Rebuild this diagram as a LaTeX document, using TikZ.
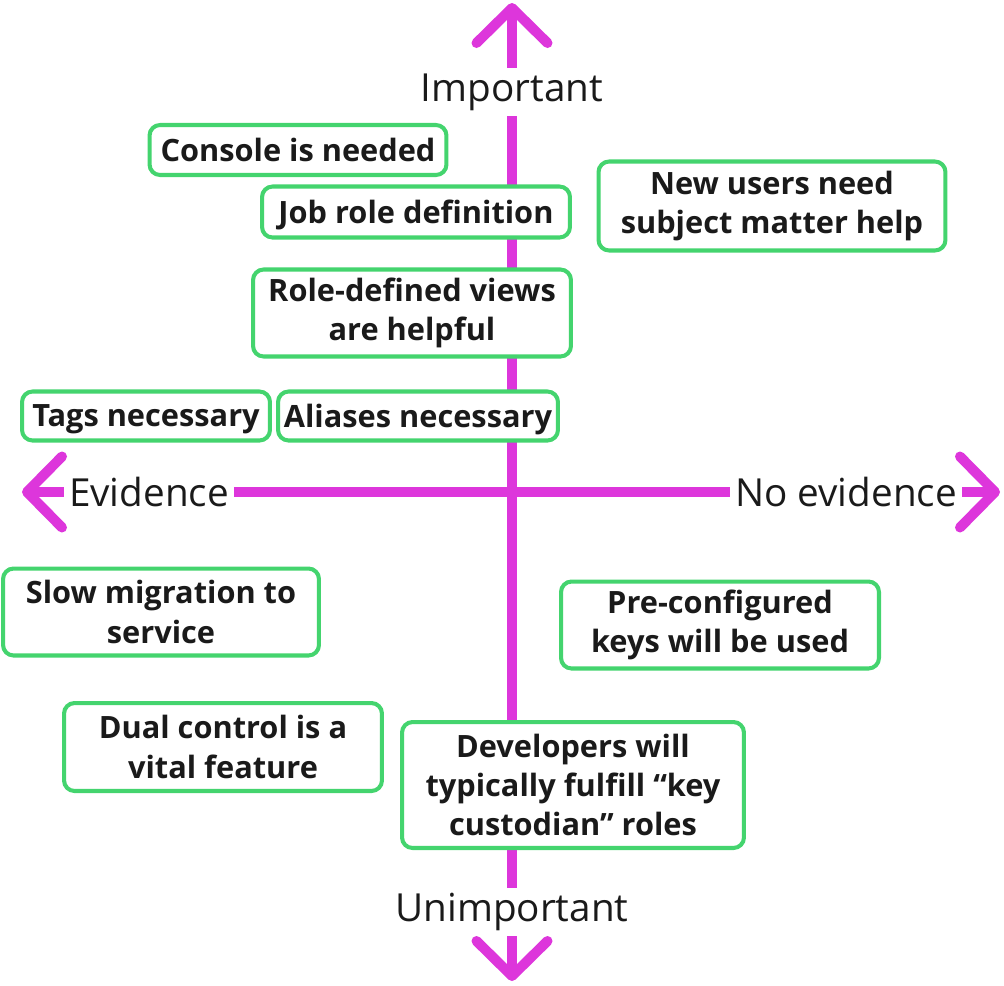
\documentclass[tikz,border=0pt]{standalone}
\usepackage{fontspec}
\setmainfont{Open Sans}
\usetikzlibrary{arrows.meta,positioning}
\definecolor{axismagenta}{RGB}{221,54,219}
\definecolor{cardgreen}{RGB}{68,212,110}
\definecolor{inkgray}{RGB}{26,26,26}

\begin{document}
\begin{tikzpicture}[x=0.02cm,y=-0.02cm,
    card/.style={rectangle,draw=cardgreen,line width=2.3pt,rounded corners=6pt,
                 fill=white,align=center,inner sep=2pt,text=inkgray,
                 font=\fontsize{17.5}{22.4}\selectfont\bfseries},
    oneline/.style={card,text depth=0pt},
    axislabel/.style={fill=white,inner sep=3pt,text=inkgray,
                 font=\fontsize{22}{26}\selectfont},
    axis/.style={draw=axismagenta,line width=5.7pt,
                 -{Straight Barb[length=0.7cm,width=1.42cm,line cap=round,round]}},
  ]
    \useasboundingbox (0,0) rectangle (1004,985);
    % axes
    \coordinate (mid) at (512,492);
    \coordinate (top) at (512,3);
    \coordinate (bottom) at (512,981);
    \coordinate (left) at (22,492);
    \coordinate (right) at (1000,492);
    \draw[axis] (mid) -- (top);
    \draw[axis] (mid) -- (bottom);
    \draw[axis] (mid) -- (left);
    \draw[axis] (mid) -- (right);
    \node[axislabel] (imp) at (512,92) {Important};
    \node[axislabel] (unimp) at (512,912) {Unimportant};
    \node[axislabel] (evid) at (149,492) {Evidence};
    \node[axislabel] (noevid) at (846,492) {No evidence};
    % cards
    \node[oneline,minimum width=5.94cm,minimum height=1.0cm] (console) at (298,150) {Console is needed};
    \node[oneline,minimum width=6.16cm,minimum height=1.02cm] (jobrole) at (416,212) {Job role definition};
    \node[card,minimum width=6.94cm,minimum height=1.78cm] (newusers) at (772,206) {New users need\\subject matter help};
    \node[card,minimum width=6.36cm,minimum height=1.74cm] (roleviews) at (412,313) {Role-defined views\\are helpful};
    \node[oneline,minimum width=4.96cm,minimum height=0.98cm] (tags) at (146,416) {Tags necessary};
    \node[oneline,minimum width=5.6cm,minimum height=0.98cm] (aliases) at (418,416) {Aliases necessary};
    \node[card,minimum width=6.32cm,minimum height=1.74cm] (slow) at (161,612) {Slow migration to\\service};
    \node[card,minimum width=6.36cm,minimum height=1.74cm] (preconf) at (720,625) {Pre-configured\\keys will be used};
    \node[card,minimum width=6.36cm,minimum height=1.76cm] (dual) at (223,747) {Dual control is a\\vital feature};
    \node[card,minimum width=6.84cm,minimum height=2.52cm] (devs) at (573,785) {Developers will\\typically fulfill “key\\custodian” roles};
\end{tikzpicture}
\end{document}
